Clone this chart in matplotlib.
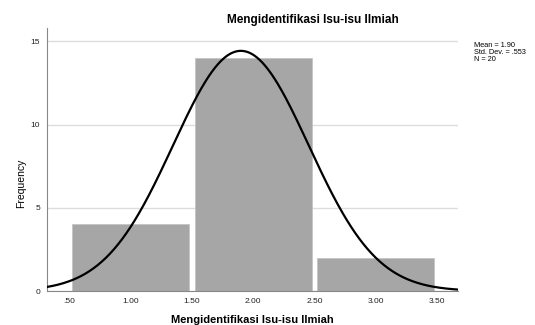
import numpy as np
import matplotlib.pyplot as plt

# histogram data
bin_edges = [0.5, 1.5, 2.5, 3.5]
counts = [4, 14, 2]
mean = 1.90
std = 0.553
n = 20
xticks = [0.5, 1.0, 1.5, 2.0, 2.5, 3.0, 3.5]
xticklabels = [".50", "1.00", "1.50", "2.00", "2.50", "3.00", "3.50"]
yticks = [0, 5, 10, 15]

plt.rcParams['font.family'] = ['Liberation Sans', 'DejaVu Sans']

fig = plt.figure(figsize=(5.35, 3.25), dpi=100)
ax = fig.add_axes([0.0879, 0.1046, 0.7682, 0.8092])

widths = np.diff(bin_edges)
centers = np.array(bin_edges[:-1]) + widths / 2
ax.bar(centers, counts, width=widths * 0.952, align='center',
       color='#a6a6a6', edgecolor='#c4c4c4', linewidth=0.6, zorder=2)

xmin, xmax = 0.32, 3.67
xs = np.linspace(xmin, xmax, 400)
pdf = n * 1.0 / (std * np.sqrt(2 * np.pi)) * np.exp(-0.5 * ((xs - mean) / std) ** 2)
ax.plot(xs, pdf, color='black', linewidth=1.6, zorder=3)

ax.set_xlim(xmin, xmax)
ax.set_ylim(0, 15.8)
ax.set_xticks(xticks)
ax.set_xticklabels(xticklabels)
ax.set_yticks(yticks)
ax.tick_params(axis='both', length=0, labelsize=6, colors='#222222', pad=5)
ax.yaxis.grid(True, color='#dddddd', linewidth=1, zorder=0)
ax.set_axisbelow(True)
for s in ['top', 'right']:
    ax.spines[s].set_visible(False)
for s in ['left', 'bottom']:
    ax.spines[s].set_color('#888888')
    ax.spines[s].set_linewidth(0.8)

fig.text(0.585, 0.938, "Mengidentifikasi Isu-isu Ilmiah", fontsize=8.5,
         fontweight='bold', ha='center', va='center')
ax.set_xlabel("Mengidentifikasi Isu-isu Ilmiah", fontsize=8, fontweight='bold', labelpad=7)
ax.set_ylabel("Frequency", fontsize=7.5)
ax.yaxis.set_label_coords(-0.052, 0.41)

fig.text(0.886, 0.872, f"Mean = {mean:.2f}\nStd. Dev. = .553\nN = {n}",
         fontsize=5.3, va='top', ha='left', linespacing=1.0)

fig.savefig("out.png", dpi=100)
